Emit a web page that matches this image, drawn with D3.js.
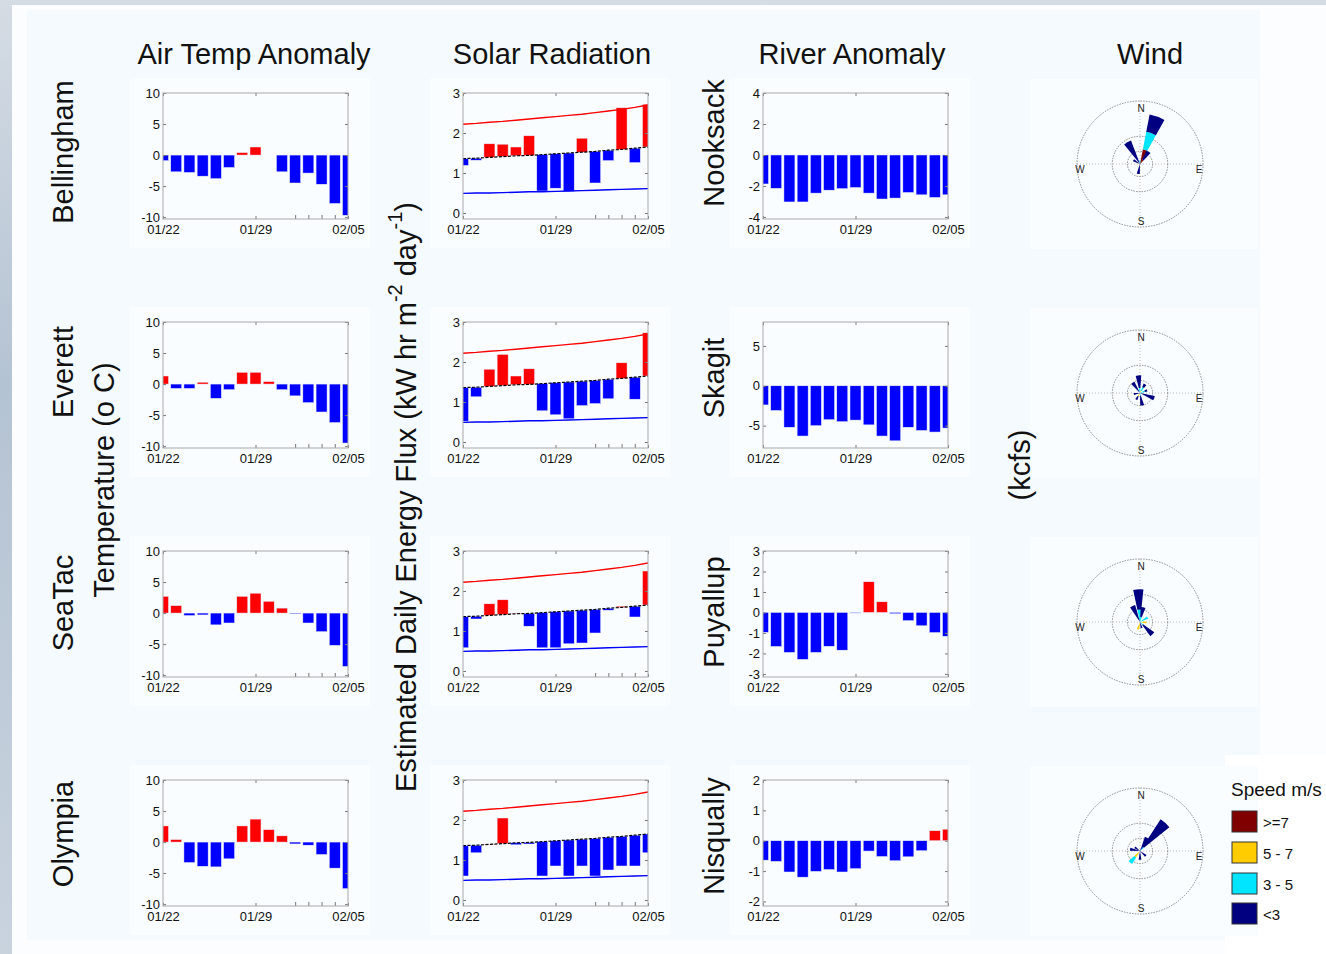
<!DOCTYPE html>
<html>
<head>
<meta charset="utf-8">
<script src="https://cdn.jsdelivr.net/npm/d3@7"></script>
<style>
html, body { margin: 0; padding: 0; background: #f6fbfd; overflow: hidden; }
svg { display: block; font-family: 'Liberation Sans', Arial, sans-serif; }
</style>
</head>
<body>
<div id="chart"></div>
<script>
// Data
const days = ['01/22', '01/23', '01/24', '01/25', '01/26', '01/27', '01/28', '01/29',
    '01/30', '01/31', '02/01', '02/02', '02/03', '02/04', '02/05']
const dayTicks = ['01/22', '01/29', '02/05']
const minorTicks = ['02/01', '02/02', '02/03', '02/04']

const stations = ['Bellingham', 'Everett', 'SeaTac', 'Olympia']
const rivers = ['Nooksack', 'Skagit', 'Puyallup', 'Nisqually']
const columnTitles = ['Air Temp Anomaly', 'Solar Radiation', 'River Anomaly', 'Wind']

// air temperature anomaly (deg C)
const airBellingham = [-0.9, -2.7, -2.8, -3.4, -3.8, -2.0, 0.4, 1.3, 0, -2.7, -4.5, -2.9, -4.7, -7.8, -9.7]
const airEverett = [1.3, -0.7, -0.7, 0.3, -2.3, -0.9, 1.9, 1.9, 0.4, -0.9, -1.9, -3.0, -4.5, -6.2, -9.5]
const airSeaTac = [2.7, 1.2, -0.4, -0.3, -1.9, -1.6, 2.7, 3.2, 1.9, 0.8, -0.1, -1.6, -3.0, -5.2, -8.6]
const airOlympia = [2.6, 0.4, -3.3, -3.9, -4.0, -2.7, 2.6, 3.7, 2.0, 1.0, -0.3, -0.5, -2.0, -4.2, -7.5]
const airTicks = [-10, -5, 0, 5, 10]

// solar radiation (kW hr m-2 day-1), climatology max / mean / min
const solarMax = [2.22, 2.24, 2.27, 2.29, 2.32, 2.35, 2.38, 2.41, 2.44, 2.47, 2.51, 2.55, 2.59, 2.64, 2.70]
const solarMean = [1.36, 1.37, 1.39, 1.41, 1.43, 1.44, 1.46, 1.48, 1.50, 1.52, 1.54, 1.57, 1.59, 1.62, 1.65]
const solarMin = [0.49, 0.50, 0.50, 0.51, 0.52, 0.53, 0.53, 0.54, 0.55, 0.56, 0.57, 0.58, 0.59, 0.60, 0.61]
const solarBellingham = [1.19, 1.32, 1.73, 1.72, 1.65, 1.93, 0.55, 0.62, 0.54, 1.87, 0.75, 1.31, 2.63, 1.26, 2.72]
const solarEverett = [0.52, 1.13, 1.82, 2.19, 1.65, 1.83, 0.78, 0.68, 0.58, 0.91, 0.96, 1.08, 1.98, 1.07, 2.73]
const solarSeaTac = [0.58, 1.30, 1.68, 1.78, 1.45, 1.12, 0.58, 0.58, 0.68, 0.70, 0.95, 1.52, 1.62, 1.35, 2.50]
const solarOlympia = [0.60, 1.18, 1.40, 2.05, 1.38, 1.40, 0.60, 0.85, 0.60, 0.85, 0.60, 0.75, 0.85, 0.85, 1.18]
const solarTicks = [0, 1, 2, 3]

// river flow anomaly (kcfs)
const riverNooksack = [-1.87, -2.15, -3.03, -3.03, -2.46, -2.27, -2.17, -2.10, -2.46, -2.84, -2.78, -2.42, -2.57, -2.74, -2.57]
const riverSkagit = [-2.4, -3.1, -5.2, -6.3, -5.0, -4.25, -4.5, -4.3, -4.9, -6.3, -6.9, -5.2, -5.6, -5.8, -5.3]
const riverPuyallup = [-0.97, -1.66, -1.95, -2.29, -1.95, -1.65, -1.84, -0.03, 1.5, 0.52, -0.06, -0.4, -0.65, -0.98, -1.16]
const riverNisqually = [-0.64, -0.68, -1.03, -1.2, -1.01, -0.95, -1.03, -0.92, -0.34, -0.52, -0.66, -0.53, -0.33, 0.33, 0.38]
const nooksackTicks = [-4, -2, 0, 2, 4]
const skagitTicks = [-5, 0, 5]
const puyallupTicks = [-3, -2, -1, 0, 1, 2, 3]
const nisquallyTicks = [-2, -1, 0, 1, 2]

// wind roses: [direction deg, >=7, 5-7, 3-5, <3] frequency (%)
const speedBins = ['>=7', '5 - 7', '3 - 5', '<3']
const speedColors = ['#800000', '#ffcc00', '#00e5ff', '#000080']
const windRings = [5, 11, 25]
const windBellingham = [[20, 6, 0, 7, 7], [35, 2, 0, 0, 4], [330, 0, 0, 0, 10], [300, 0, 0, 0, 3],
    [190, 0, 0, 0, 4], [0, 0, 0, 1.5, 0]]
const windEverett = [[355, 0, 0, 2, 5], [325, 0, 0, 0, 5], [30, 0, 1, 1.5, 1.5], [110, 0, 0, 0, 6],
    [170, 0, 0, 1, 4], [210, 0, 1.5, 0, 1.5], [260, 0, 0, 0, 2.5], [70, 0, 0, 2, 1]]
const windSeaTac = [[357, 0, 0, 5, 8], [335, 0, 0, 0, 7], [12, 0, 0, 2, 4], [135, 0, 0, 1.5, 5.5],
    [60, 0, 0, 3.5, 0], [95, 0, 2.5, 0, 0], [195, 0, 3, 0, 0], [165, 0, 0, 0, 2.5]]
const windOlympia = [[42, 0, 0, 2, 13], [28, 0, 0, 0, 6], [220, 0, 3, 3, 0], [280, 0, 0, 0, 4],
    [180, 0, 0, 0, 3.5], [130, 0, 0, 0, 3], [305, 0, 0, 0, 2.5]]

// Dimension
const colX = [163, 463, 763]
const rowY = [93, 322, 551, 780]
const plotW = 185
const plotH = 126
const barW = 11
const roseX = 1140
const roseY = [164, 393, 622, 851]
const axisGray = '#a8a8a8'

const svg = d3.select('#chart')
    .append('svg')
    .attr('width', 1326)
    .attr('height', 954)

// backdrop
const grad = svg.append('defs').append('linearGradient')
    .attr('id', 'edge').attr('x1', 0).attr('y1', 0).attr('x2', 0).attr('y2', 1)
grad.append('stop').attr('offset', 0).attr('stop-color', '#d5dce4')
grad.append('stop').attr('offset', 0.4).attr('stop-color', '#b4c3d3')
grad.append('stop').attr('offset', 1).attr('stop-color', '#c9d3de')
svg.append('rect').attr('width', 1326).attr('height', 954).attr('fill', 'url(#edge)')
svg.append('rect').attr('x', 12).attr('y', 5).attr('width', 1314).attr('height', 949).attr('fill', '#fbfdfe')
svg.append('rect').attr('x', 27).attr('y', 10).attr('width', 1233).attr('height', 930).attr('fill', '#f4fafd')
svg.append('rect').attr('x', 1225).attr('y', 755).attr('width', 101).attr('height', 199).attr('fill', '#ffffff')

let clipId = 0

function drawPanel(x0, y0, yDomain, yTicks, withMinor) {
    const x = d3.scalePoint().domain(days).range([x0, x0 + plotW])
    const y = d3.scaleLinear().domain(yDomain).range([y0 + plotH, y0])

    const g = svg.append('g')
    g.append('rect')
        .attr('x', x0 - 33).attr('y', y0 - 15)
        .attr('width', 240).attr('height', 170)
        .attr('fill', '#f9fdff')

    const id = 'clip' + (clipId++)
    g.append('clipPath').attr('id', id)
        .append('rect').attr('x', x0).attr('y', y0).attr('width', plotW).attr('height', plotH)

    const plot = g.append('g').attr('clip-path', `url(#${id})`)

    const axes = [
        g.append('g').attr('transform', `translate(${x0},0)`)
            .call(d3.axisLeft(y).tickValues(yTicks).tickSize(-3).tickPadding(3).tickFormat(d => d)),
        g.append('g').attr('transform', `translate(${x0 + plotW},0)`)
            .call(d3.axisRight(y).tickValues(yTicks).tickSize(-3).tickFormat('')),
        g.append('g').attr('transform', `translate(0,${y0 + plotH})`)
            .call(d3.axisBottom(x).tickValues(dayTicks).tickSize(-3).tickPadding(6)),
        g.append('g').attr('transform', `translate(0,${y0})`)
            .call(d3.axisTop(x).tickValues(dayTicks).tickSize(-3).tickFormat(''))
    ]
    if (withMinor) {
        axes.push(g.append('g').attr('transform', `translate(0,${y0 + plotH})`)
            .call(d3.axisBottom(x).tickValues(minorTicks).tickSize(-4).tickFormat('')))
    }
    axes.forEach(a => {
        a.select('.domain').remove()
        a.selectAll('line').attr('stroke', '#777')
        a.selectAll('text').attr('fill', '#111').style('font-size', '13px')
            .style('font-family', "'Liberation Sans', Arial, sans-serif")
    })

    const box = g.append('rect')
        .attr('x', x0).attr('y', y0).attr('width', plotW).attr('height', plotH)
        .attr('fill', 'none').attr('stroke', axisGray).attr('stroke-width', 1)

    return { g, plot, x, y, box }
}

function drawAnomaly(p, values) {
    p.plot.selectAll('rect.bar')
        .data(values)
        .join('rect')
        .attr('class', 'bar')
        .attr('x', (d, i) => p.x(days[i]) - barW / 2)
        .attr('width', barW)
        .attr('y', d => p.y(Math.max(d, 0)))
        .attr('height', d => Math.abs(p.y(d) - p.y(0)))
        .attr('fill', d => d >= 0 ? '#ff0000' : '#0000ff')
        .attr('stroke', '#e8eefc')
        .attr('stroke-width', 0.5)
    p.box.raise()
}

function drawSolar(p, values) {
    p.plot.selectAll('rect.bar')
        .data(values)
        .join('rect')
        .attr('class', 'bar')
        .attr('x', (d, i) => p.x(days[i]) - barW / 2)
        .attr('width', barW)
        .attr('y', (d, i) => p.y(Math.max(d, solarMean[i])))
        .attr('height', (d, i) => Math.abs(p.y(d) - p.y(solarMean[i])))
        .attr('fill', (d, i) => d >= solarMean[i] ? '#ff0000' : '#0000ff')
        .attr('stroke', '#e8eefc')
        .attr('stroke-width', 0.5)

    const line = d3.line().x((d, i) => p.x(days[i])).y(d => p.y(d))
    p.plot.append('path').datum(solarMax).attr('d', line)
        .attr('fill', 'none').attr('stroke', '#ff0000').attr('stroke-width', 1.4)
    p.plot.append('path').datum(solarMin).attr('d', line)
        .attr('fill', 'none').attr('stroke', '#0000ff').attr('stroke-width', 1.4)
    p.plot.append('path').datum(solarMean).attr('d', line)
        .attr('fill', 'none').attr('stroke', '#000').attr('stroke-width', 1.2)
        .attr('stroke-dasharray', '3,1.5')
    p.box.raise()
}

function drawRose(cx, cy, petals) {
    const r = d3.scaleLinear().domain([0, 25]).range([0, 63])
    const g = svg.append('g').attr('transform', `translate(${cx},${cy})`)
    g.append('rect').attr('x', -110).attr('y', -85).attr('width', 228).attr('height', 170)
        .attr('fill', '#f9fdff')

    g.append('line').attr('x1', -r(25)).attr('x2', r(25)).attr('y1', 0).attr('y2', 0)
        .attr('stroke', '#bbb').attr('stroke-dasharray', '1,2')
    g.append('line').attr('y1', -r(25)).attr('y2', r(25)).attr('x1', 0).attr('x2', 0)
        .attr('stroke', '#bbb').attr('stroke-dasharray', '1,2')
    g.selectAll('circle')
        .data(windRings)
        .join('circle')
        .attr('r', d => r(d))
        .attr('fill', 'none')
        .attr('stroke', '#8a8a8a')
        .attr('stroke-dasharray', '1.5,1.2')

    const arc = d3.arc()
    const half = 9 * Math.PI / 180
    petals.forEach(p => {
        const a = p[0] * Math.PI / 180
        let acc = 0
        for (let k = 0; k < 4; k++) {
            const v = p[k + 1]
            if (v <= 0) continue
            g.append('path')
                .attr('d', arc({ innerRadius: r(acc), outerRadius: r(acc + v), startAngle: a - half, endAngle: a + half }))
                .attr('fill', speedColors[k])
            acc += v
        }
    })

    const compass = [['N', 1, -56], ['S', 1, 57], ['W', -60, 5], ['E', 59, 5]]
    g.selectAll('text.dir')
        .data(compass)
        .join('text')
        .attr('class', 'dir')
        .attr('x', d => d[1]).attr('y', d => d[2])
        .attr('text-anchor', 'middle')
        .attr('dominant-baseline', 'central')
        .style('font-size', '10px')
        .attr('fill', '#222')
        .text(d => d[0])
}

const airData = [airBellingham, airEverett, airSeaTac, airOlympia]
const solarData = [solarBellingham, solarEverett, solarSeaTac, solarOlympia]
const riverData = [riverNooksack, riverSkagit, riverPuyallup, riverNisqually]
const riverDomains = [[-4.13, 4], [-7.8, 8], [-3.15, 3], [-2.15, 2]]
const riverTicks = [nooksackTicks, skagitTicks, puyallupTicks, nisquallyTicks]
const windData = [windBellingham, windEverett, windSeaTac, windOlympia]

rowY.forEach((y0, r) => {
    drawAnomaly(drawPanel(colX[0], y0, [-10.3, 10], airTicks, true), airData[r])
    drawSolar(drawPanel(colX[1], y0, [-0.15, 3], solarTicks, true), solarData[r])
    drawAnomaly(drawPanel(colX[2], y0, riverDomains[r], riverTicks[r], false), riverData[r])
    drawRose(roseX, roseY[r], windData[r])
})

// titles
svg.selectAll('text.coltitle')
    .data(columnTitles)
    .join('text')
    .attr('class', 'coltitle')
    .attr('x', (d, i) => [254, 552, 852, 1150][i])
    .attr('y', 64)
    .attr('text-anchor', 'middle')
    .style('font-size', '29px')
    .attr('fill', '#111')
    .text(d => d)

function vText(x, y, txt, size) {
    return svg.append('text')
        .attr('transform', `translate(${x},${y}) rotate(-90)`)
        .attr('text-anchor', 'middle')
        .attr('dominant-baseline', 'central')
        .style('font-size', size + 'px')
        .attr('fill', '#111')
        .text(txt)
}

const stationY = [152, 372, 603, 834]
const riverY = [143, 378, 612, 836]
stations.forEach((s, i) => vText(63, stationY[i], s, 29))
rivers.forEach((s, i) => vText(714, riverY[i], s, 29))
vText(104, 480, 'Temperature (o C)', 29)
vText(1020, 465, '(kcfs)', 29)

const flux = svg.append('text')
    .attr('transform', 'translate(406,497) rotate(-90)')
    .attr('text-anchor', 'middle')
    .attr('dominant-baseline', 'central')
    .style('font-size', '29px')
    .attr('fill', '#111')
flux.append('tspan').text('Estimated Daily Energy Flux (kW hr m')
flux.append('tspan').attr('dy', -11).style('font-size', '20px').text('-2')
flux.append('tspan').attr('dy', 11).text(' day')
flux.append('tspan').attr('dy', -11).style('font-size', '20px').text('-1')
flux.append('tspan').attr('dy', 11).text(')')

// legend
const legend = svg.append('g')
legend.append('text').attr('x', 1231).attr('y', 796)
    .style('font-size', '19px').attr('fill', '#111').text('Speed m/s')
const legY = [811, 842, 873, 903]
legend.selectAll('rect')
    .data(speedBins)
    .join('rect')
    .attr('x', 1232).attr('y', (d, i) => legY[i])
    .attr('width', 25).attr('height', 21)
    .attr('fill', (d, i) => speedColors[i])
    .attr('stroke', '#333')
legend.selectAll('text.lab')
    .data(speedBins)
    .join('text')
    .attr('class', 'lab')
    .attr('x', 1263).attr('y', (d, i) => legY[i] + 11)
    .attr('dominant-baseline', 'central')
    .style('font-size', '15px')
    .attr('fill', '#111')
    .text(d => d)
</script>
</body>
</html>
